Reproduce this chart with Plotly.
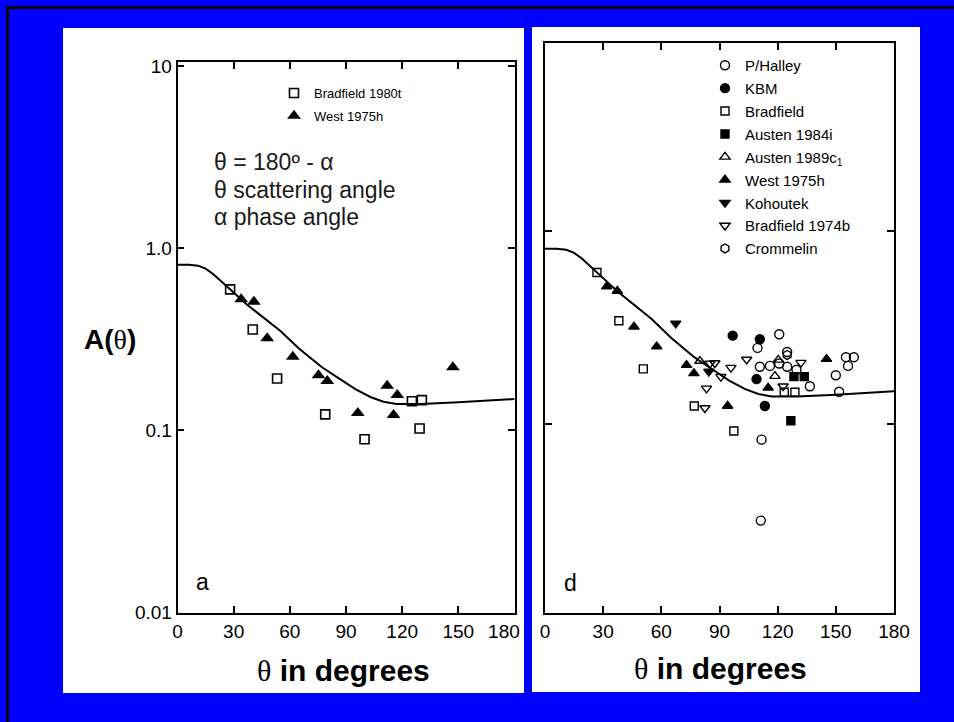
import plotly.graph_objects as go

W, H = 954, 722

# ---------------- data ----------------
# model phase function (same curve in both panels)
curve_theta = [0, 6, 11, 15, 19, 24, 30, 37, 45, 55, 65, 77, 87, 95, 103, 110, 117, 130, 150, 165, 180]
curve_A = [0.81, 0.81, 0.80, 0.77, 0.72, 0.65, 0.57, 0.49, 0.42, 0.35, 0.28, 0.222, 0.19, 0.168,
           0.152, 0.143, 0.139, 0.139, 0.142, 0.145, 0.148]

# panel a
a_brad80_theta = [28.1, 40.2, 53.2, 78.9, 99.9, 125.2, 130.5, 129.3]
a_brad80_A = [0.593, 0.357, 0.192, 0.122, 0.089, 0.144, 0.146, 0.102]
a_west_theta = [34.0, 40.8, 47.9, 61.6, 75.3, 80.0, 96.3, 112.0, 117.4, 115.4, 147.1]
a_west_A = [0.523, 0.507, 0.319, 0.253, 0.200, 0.186, 0.124, 0.175, 0.156, 0.121, 0.221]

# panel d
d_halley_theta = [109.6, 110.8, 116.0, 120.8, 120.8, 124.9, 124.9, 129.7, 136.6, 150.0, 151.7,
                  155.2, 159.3, 156.3, 111.7, 111.3]
d_halley_A = [0.248, 0.198, 0.200, 0.206, 0.292, 0.236, 0.198, 0.191, 0.157, 0.179, 0.147,
              0.222, 0.222, 0.200, 0.083, 0.0316]
d_kbm_theta = [96.8, 110.8, 109.1, 113.4]
d_kbm_A = [0.287, 0.275, 0.171, 0.124]
d_brad_theta = [26.8, 38.1, 50.7, 77.0, 97.4, 123.4, 128.9]
d_brad_A = [0.61, 0.343, 0.193, 0.124, 0.092, 0.146, 0.146]
d_aus84_theta = [128.4, 133.7, 126.8]
d_aus84_A = [0.176, 0.176, 0.104]
d_aus89_theta = [79.9, 118.6, 120.3]
d_aus89_A = [0.212, 0.177, 0.215]
d_west_theta = [31.8, 37.3, 45.9, 57.6, 73.0, 76.8, 94.2, 115.1, 145.2]
d_west_A = [0.515, 0.489, 0.319, 0.252, 0.202, 0.183, 0.124, 0.154, 0.217]
d_koh_theta = [67.4, 84.5]
d_koh_A = [0.332, 0.187]
d_brad74_theta = [85.1, 87.6, 95.9, 90.7, 83.3, 104.0, 132.0, 122.8, 82.5]
d_brad74_A = [0.206, 0.207, 0.196, 0.176, 0.153, 0.216, 0.208, 0.157, 0.121]
d_crom_theta = [124.9]
d_crom_A = [0.228]

x_ticks = [0, 30, 60, 90, 120, 150, 180]
a_x_ticktext = ["0", "30", "60", "90", "120", "150", "180\u00a0\u00a0\u00a0\u00a0"]
d_x_ticktext = ["0", "30", "60", "90", "120", "150", "180"]
y_ticks = [0.01, 0.1, 1, 10]
y_ticktext = ["0.01", "0.1", "1.0", "10"]

note_lines = ["θ = 180º - α", "θ scattering angle", "α phase angle"]

FONT = "Liberation Sans, Arial, Helvetica, sans-serif"
SERIF = "Liberation Serif"


def px(x):
    return x / W


def py(y):
    return 1 - y / H


fig = go.Figure()

# ---- panel a ----
fig.add_trace(go.Scatter(x=curve_theta, y=curve_A, mode="lines", line=dict(color="black", width=2),
                         showlegend=False, xaxis="x", yaxis="y"))
fig.add_trace(go.Scatter(x=a_brad80_theta, y=a_brad80_A, mode="markers", name="Bradfield 1980t",
                         legend="legend", legendgroup="a1",
                         marker=dict(symbol="square-open", size=9, color="black", line=dict(width=1.6)),
                         xaxis="x", yaxis="y"))
fig.add_trace(go.Scatter(x=a_west_theta, y=a_west_A, mode="markers", name="West 1975h",
                         legend="legend", legendgroup="a2",
                         marker=dict(symbol="triangle-up", size=12, color="black"),
                         xaxis="x", yaxis="y"))

# ---- panel d ----
fig.add_trace(go.Scatter(x=curve_theta, y=curve_A, mode="lines", line=dict(color="black", width=2),
                         showlegend=False, xaxis="x2", yaxis="y2"))

d_series = [
    ("P/Halley", d_halley_theta, d_halley_A, "circle-open", 9),
    ("KBM", d_kbm_theta, d_kbm_A, "circle", 9),
    ("Bradfield", d_brad_theta, d_brad_A, "square-open", 8),
    ("Austen 1984i", d_aus84_theta, d_aus84_A, "square", 8),
    ("Austen 1989c<sub>1</sub>", d_aus89_theta, d_aus89_A, "triangle-up-open", 9),
    ("West 1975h", d_west_theta, d_west_A, "triangle-up", 9),
    ("Kohoutek", d_koh_theta, d_koh_A, "triangle-down", 9),
    ("Bradfield 1974b", d_brad74_theta, d_brad74_A, "triangle-down-open", 9),
    ("Crommelin", d_crom_theta, d_crom_A, "hexagon-open", 9),
]
for i, (name, xs, ys, sym, sz) in enumerate(d_series):
    fig.add_trace(go.Scatter(x=xs, y=ys, mode="markers", name=name,
                             legend="legend2", legendgroup="d%d" % i,
                             marker=dict(symbol=sym, size=sz, color="black", line=dict(width=1.4, color="black")),
                             xaxis="x2", yaxis="y2"))

axis_common = dict(showgrid=False, zeroline=False, showline=True, linecolor="black", linewidth=1.6,
                   mirror="ticks", ticks="inside", ticklen=7, tickwidth=1.5, tickcolor="black",
                   automargin=False,
                   tickfont=dict(family=FONT, size=19, color="black"))

fig.update_layout(
    width=W, height=H,
    margin=dict(l=0, r=0, t=0, b=0, pad=0, autoexpand=False),
    paper_bgcolor="#0000ff",
    plot_bgcolor="white",
    font=dict(family=FONT, color="black"),
    xaxis=dict(domain=[px(177.5), px(514.5)], range=[0, 180], tickmode="array", tickvals=x_ticks,
               ticktext=a_x_ticktext, anchor="y", **axis_common),
    yaxis=dict(domain=[py(613), py(62)], type="log", range=[-2.005, 1.022], tickmode="array",
               tickvals=y_ticks, ticktext=y_ticktext, anchor="x", **axis_common),
    xaxis2=dict(domain=[px(545), px(894)], range=[0, 180], tickmode="array", tickvals=x_ticks,
                ticktext=d_x_ticktext, anchor="y2", **axis_common),
    yaxis2=dict(domain=[py(613), py(43)], type="log", range=[-1.979, 0.974], tickmode="array",
                tickvals=[0.1, 1], showticklabels=False, anchor="x2", **axis_common),
    legend=dict(x=px(274), y=py(78), xanchor="left", yanchor="top", bgcolor="rgba(0,0,0,0)",
                font=dict(family=FONT, size=13, color="black"), tracegroupgap=3,
                itemclick=False, itemdoubleclick=False),
    legend2=dict(x=px(705), y=py(49), xanchor="left", yanchor="top", bgcolor="rgba(0,0,0,0)",
                 font=dict(family=FONT, size=15, color="black"), tracegroupgap=0.4,
                 itemclick=False, itemdoubleclick=False),
    showlegend=True,
)

# slide background: white panels and dark outline
fig.add_shape(type="rect", xref="paper", yref="paper", x0=px(63), x1=px(524), y0=py(693), y1=py(28),
              fillcolor="white", line=dict(width=0), layer="below")
fig.add_shape(type="rect", xref="paper", yref="paper", x0=px(532), x1=px(920), y0=py(692), y1=py(27),
              fillcolor="white", line=dict(width=0), layer="below")
fig.add_shape(type="line", xref="paper", yref="paper", x0=px(6), x1=1, y0=py(7.5), y1=py(7.5),
              line=dict(color="black", width=3))
fig.add_shape(type="line", xref="paper", yref="paper", x0=px(7.5), x1=px(7.5), y0=py(6), y1=0,
              line=dict(color="black", width=3))

theta_span = '<span style="font-family:%s;font-weight:normal">θ</span>' % SERIF

annotations = [
    dict(x=px(202), y=py(582), text="a", font=dict(family=FONT, size=23, color="black")),
    dict(x=px(570), y=py(583), text="d", font=dict(family=FONT, size=23, color="black")),
    dict(x=px(110), y=py(340), text="<b>A(</b>" + theta_span + "<b>)</b>",
         font=dict(family=FONT, size=28, color="black")),
    dict(x=px(343), y=py(670), text=theta_span + "<b> in degrees</b>",
         font=dict(family=FONT, size=30, color="black")),
    dict(x=px(720), y=py(668), text=theta_span + "<b> in degrees</b>",
         font=dict(family=FONT, size=30, color="black")),
]
# three-line note, one annotation per line for tight spacing
for k, line in enumerate(note_lines):
    annotations.append(dict(x=px(212), y=py(162 + 27.5 * k), xanchor="left", text=line,
                            font=dict(family=FONT, size=23, color="#1a1a1a")))

for a in annotations:
    a.setdefault("xanchor", "center")
    a.setdefault("yanchor", "middle")
    fig.add_annotation(xref="paper", yref="paper", showarrow=False, **a)

fig.write_html("out.html")
